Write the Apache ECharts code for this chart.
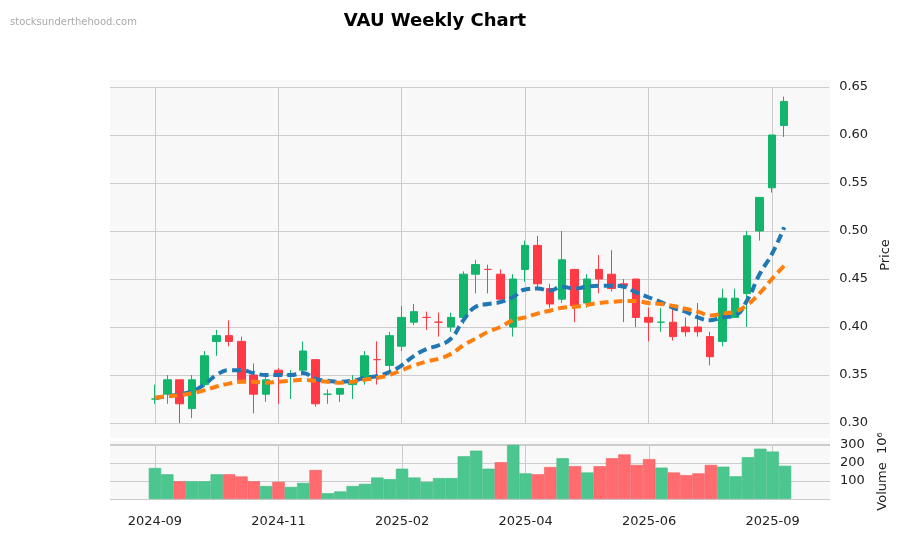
<!DOCTYPE html>
<html>
<head>
<meta charset="utf-8">
<title>VAU Weekly Chart</title>
<script src="https://cdn.jsdelivr.net/npm/echarts@6/dist/echarts.min.js"></script>
<style>
  html, body { margin: 0; padding: 0; background: #fff; }
  #main { width: 900px; height: 533px; }
</style>
</head>
<body>
<div id="main"></div>
<script>
// weekly candles: [open, close, low, high]
const opens  = [0.325,0.330,0.345,0.315,0.340,0.385,0.391,0.385,0.350,0.330,0.355,0.350,0.355,0.366,0.330,0.330,0.340,0.345,0.366,0.360,0.380,0.405,0.410,0.405,0.400,0.410,0.455,0.460,0.455,0.400,0.460,0.485,0.440,0.429,0.460,0.425,0.460,0.455,0.445,0.450,0.410,0.405,0.405,0.400,0.400,0.390,0.385,0.410,0.435,0.500,0.545,0.610];
const closes = [0.325,0.345,0.320,0.345,0.370,0.391,0.385,0.345,0.330,0.345,0.350,0.350,0.375,0.320,0.330,0.336,0.343,0.370,0.366,0.391,0.410,0.416,0.410,0.405,0.410,0.455,0.465,0.460,0.429,0.450,0.485,0.445,0.424,0.470,0.422,0.450,0.450,0.440,0.443,0.410,0.405,0.405,0.390,0.395,0.395,0.369,0.430,0.430,0.495,0.535,0.600,0.635];
const lows   = [0.320,0.320,0.300,0.305,0.338,0.370,0.380,0.345,0.310,0.322,0.320,0.325,0.350,0.317,0.320,0.322,0.325,0.340,0.340,0.355,0.375,0.402,0.397,0.390,0.395,0.403,0.435,0.435,0.425,0.390,0.447,0.440,0.420,0.425,0.405,0.420,0.435,0.437,0.405,0.400,0.385,0.395,0.386,0.390,0.390,0.360,0.380,0.410,0.400,0.490,0.540,0.598];
const highs  = [0.340,0.350,0.345,0.350,0.375,0.397,0.407,0.390,0.362,0.350,0.357,0.355,0.385,0.366,0.335,0.336,0.350,0.375,0.385,0.395,0.422,0.424,0.416,0.415,0.415,0.458,0.470,0.465,0.460,0.455,0.490,0.495,0.445,0.500,0.460,0.455,0.475,0.480,0.450,0.450,0.420,0.420,0.420,0.410,0.425,0.395,0.440,0.440,0.500,0.535,0.600,0.640];
const volumes = [172,137,98,98,98,137,137,125,98,72,95,67,89,161,32,42,72,84,119,110,168,119,95,116,116,237,268,168,204,300,142,137,177,226,182,147,182,226,247,189,221,174,147,132,142,189,179,126,232,279,263,184];
const maFast = [0.326,0.328,0.330,0.333,0.340,0.350,0.355,0.355,0.352,0.350,0.350,0.350,0.352,0.346,0.344,0.343,0.344,0.347,0.349,0.353,0.360,0.370,0.377,0.381,0.388,0.407,0.421,0.424,0.426,0.431,0.439,0.440,0.438,0.442,0.440,0.442,0.443,0.443,0.442,0.436,0.431,0.426,0.420,0.416,0.410,0.407,0.410,0.412,0.428,0.455,0.476,0.504];
const maSlow = [0.326,0.328,0.329,0.331,0.334,0.338,0.341,0.343,0.343,0.342,0.343,0.344,0.345,0.344,0.343,0.342,0.343,0.345,0.347,0.350,0.355,0.360,0.364,0.367,0.372,0.381,0.388,0.395,0.400,0.407,0.410,0.414,0.417,0.420,0.421,0.423,0.425,0.426,0.427,0.427,0.425,0.424,0.422,0.419,0.416,0.412,0.414,0.416,0.423,0.435,0.450,0.464];
const tickIdx = [0, 10, 20, 30, 40, 50];
const tickText = ['2024-09', '2024-11', '2025-02', '2025-04', '2025-06', '2025-09'];

const up = '#13b46c', down = '#ff3a45';
const upVol = '#4cc68f', downVol = '#ff6b6e';
const isUp = i => closes[i] >= opens[i];

const chart = echarts.init(document.getElementById('main'));

function xAxisCfg(gi, labels) {
    return {
        type: 'value', gridIndex: gi, min: -3.64, max: 54.64,
        axisLine: { show: false },
        axisTick: { show: false, customValues: tickIdx },
        axisLabel: labels ? {
            show: true, customValues: tickIdx,
            formatter: v => tickText[tickIdx.indexOf(Math.round(v))] || '',
            color: '#222', fontSize: 13, margin: 16
        } : { show: false, customValues: tickIdx },
        splitLine: { show: true, lineStyle: { color: '#cccccc', width: 1 } }
    };
}

chart.setOption({
    animation: false,
    backgroundColor: '#fff',
    title: {
        text: 'VAU Weekly Chart', left: 430, top: 7, textAlign: 'center',
        textStyle: { fontSize: 18, fontWeight: 'bold', color: '#000', fontFamily: 'DejaVu Sans' }
    },
    graphic: [
        { type: 'text', left: 10, top: 17, style: { text: 'stocksunderthehood.com', fill: '#aaa', fontSize: 10, fontFamily: 'DejaVu Sans' } },
        { type: 'rect', z: -10, shape: { x: 110, y: 80, width: 720, height: 358 }, style: { fill: '#f8f8f8' } },
        { type: 'rect', z: -10, shape: { x: 110, y: 441, width: 720, height: 58 }, style: { fill: '#f8f8f8' } }
    ],
    textStyle: { fontFamily: 'DejaVu Sans' },
    grid: [
        { left: 110, right: 70, top: 87, bottom: 110 },
        { left: 110, right: 70, top: 444, bottom: 34 }
    ],
    xAxis: [xAxisCfg(0, false), xAxisCfg(1, true)],
    yAxis: [
        {
            type: 'value', gridIndex: 0, position: 'right', min: 0.3, max: 0.65, interval: 0.05,
            name: 'Price', nameLocation: 'middle', nameGap: 37, nameRotate: 90,
            nameTextStyle: { fontSize: 13, color: '#222' },
            axisLabel: { formatter: v => v.toFixed(2), fontSize: 13, color: '#222', margin: 10 },
            axisLine: { show: false }, axisTick: { show: false },
            splitLine: { lineStyle: { color: '#cccccc' } }
        },
        {
            type: 'value', gridIndex: 1, position: 'right', min: 0, max: 305, interval: 100,
            name: 'Volume  10⁶', nameLocation: 'middle', nameGap: 40, nameRotate: 90,
            nameTextStyle: { fontSize: 13, color: '#222' },
            axisLabel: { fontSize: 13, color: '#222', showMinLabel: false, showMaxLabel: false, margin: 10 },
            axisLine: { show: false }, axisTick: { show: false },
            splitLine: { lineStyle: { color: '#cccccc' } }
        }
    ],
    series: [
        {
            type: 'candlestick', xAxisIndex: 0, yAxisIndex: 0, barWidth: 8, clip: false,
            encode: { x: 0, y: [1, 2, 3, 4] },
            data: opens.map((o, i) => [i, o, closes[i], lows[i], highs[i]]),
            itemStyle: { color: up, color0: down, borderColor: up, borderColor0: down, borderWidth: 1 },
            z: 3
        },
        {
            type: 'line', xAxisIndex: 0, yAxisIndex: 0, data: maFast.map((v, i) => [i, v]), smooth: true, symbol: 'none',
            lineStyle: { color: '#1f77b4', width: 4, type: [9, 5] }, z: 4
        },
        {
            type: 'line', xAxisIndex: 0, yAxisIndex: 0, data: maSlow.map((v, i) => [i, v]), smooth: true, symbol: 'none',
            lineStyle: { color: '#ff7f0e', width: 4, type: [9, 5] }, z: 4
        },
        {
            type: 'bar', xAxisIndex: 1, yAxisIndex: 1, barWidth: 12.3,
            data: volumes.map((v, i) => ({
                value: [i, v],
                itemStyle: {
                    color: isUp(i) ? upVol : downVol,
                    borderColor: isUp(i) ? '#3dba82' : '#f25a5e', borderWidth: 0.6
                }
            }))
        }
    ]
});
</script>
</body>
</html>
